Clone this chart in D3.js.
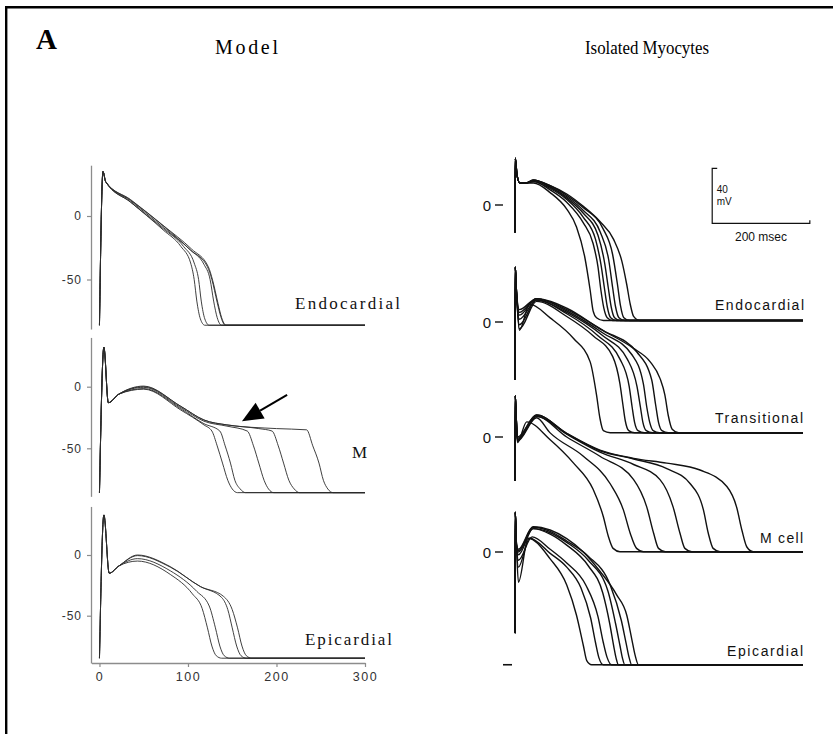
<!DOCTYPE html>
<html>
<head>
<meta charset="utf-8">
<script src="https://cdn.jsdelivr.net/npm/d3@7"></script>
<style>
  html, body { margin: 0; background: #fff; overflow: hidden; }
  svg { display: block; }
</style>
</head>
<body>
<svg id="fig" width="833" height="734"></svg>
<script>
// ---- data: [time ms, voltage mV] points ----

// Model, endocardial: common upstroke, then one array per trace
const modelEndoStart = [[0, -86], [4, 35], [7, 27]];
const modelEndo = [
  [[35, 11], [72, -11], [92, -24], [103, -37], [107, -50], [110, -67], [114, -81], [119, -86]],
  [[35, 11], [72, -10], [95, -24], [107, -37], [112, -50], [115, -67], [119, -81], [124, -86]],
  [[35, 12], [72, -9], [103, -27], [118, -38], [125, -50], [129, -67], [133, -80], [138, -86]],
  [[35, 12.6], [73, -8.4], [103, -26.8], [122, -40], [127, -50], [133, -68], [137, -79], [142, -86]],
  [[35, 13], [73, -8], [104, -26], [123, -40], [128, -51], [134, -69], [138, -80], [143, -86]]
];

// Model, M cell
const modelMStart = [[0, -86], [5, 32], [10, -13], [22, -6]];
const modelM = [
  [[50, -2], [92, -19], [118, -31], [127, -36], [133, -48], [139, -62], [145, -76], [150, -83], [156, -86]],
  [[50, -1.5], [92, -18], [118, -30], [136, -36], [142, -48], [148, -62], [153, -76], [159, -83], [165, -86]],
  [[50, -0.5], [92, -17], [118, -28], [144, -32], [167, -36], [174, -48], [180, -62], [186, -76], [191, -83], [197, -86]],
  [[50, 0], [92, -16], [118, -27], [144, -31], [180, -34], [195, -36], [202, -48], [208, -62], [214, -76], [220, -83], [226, -86]],
  [[50, 0.5], [92, -16], [118, -27], [144, -31], [200, -34], [234, -35], [241, -48], [248, -62], [253, -76], [258, -83], [264, -86]]
];

// Model, epicardial
const modelEpiStart = [[0, -85], [5, 33], [11, -15], [22, -9]];
const modelEpi = [
  [[43, -5], [80, -16], [105, -32], [116, -44], [122, -60], [127, -75], [132, -83], [138, -85]],
  [[43, -3], [80, -13], [110, -30], [124, -42], [131, -60], [136, -75], [141, -83], [147, -85]],
  [[43, -0.5], [80, -10], [114, -26], [138, -35], [145, -45], [150, -60], [155, -75], [160, -83], [166, -85]],
  [[43, 0], [80, -9.6], [114, -26], [140, -34], [150, -45], [156, -60], [161, -75], [166, -83], [172, -85]]
];

// Isolated myocytes, endocardial
const cellEndoStart = [[0, -20], [0.5, 34], [4, 22], [10, 16], [22, 16]];
const cellEndo = [
  [[38, 16], [72, 9], [106, -3], [126, -16], [143, -38], [154, -62], [160, -77], [167, -82], [181, -84]],
  [[38, 17], [72, 11], [106, 2], [140, -13], [160, -28], [170, -45], [176, -62], [182, -75], [189, -82], [200, -84]],
  [[38, 17], [72, 12], [106, 4], [140, -9], [165, -25], [176, -43], [183, -60], [189, -74], [196, -82], [208, -84]],
  [[38, 18], [72, 13], [106, 5], [140, -6], [170, -22], [184, -43], [191, -60], [197, -74], [204, -82], [216, -84]],
  [[38, 18], [72, 13], [106, 6], [140, -4], [175, -20], [192, -40], [200, -60], [206, -74], [213, -82], [225, -84]],
  [[38, 18], [72, 14], [106, 7], [140, -2], [180, -17], [200, -36], [210, -58], [216, -73], [223, -82], [235, -84]],
  [[38, 18], [72, 14], [106, 8], [140, -1], [174, -12], [202, -25], [219, -41], [229, -58], [236, -72], [243, -81], [256, -84]]
];

// Isolated myocytes, transitional
const cellTransStart = [[0, -42], [0.5, 40], [3, 22]];
const cellTrans = [
  [[9, -6], [30, 13], [72, 3], [120, -12], [154, -29], [167, -53], [174, -70], [181, -79], [195, -80.5]],
  [[9, -5], [44, 15], [106, 4], [160, -10], [200, -25], [215, -45], [221, -60], [226, -72], [233, -79], [245, -80.5]],
  [[9, -2], [44, 16], [106, 6], [170, -10], [215, -27], [234, -47], [240, -62], [245, -73], [252, -79], [265, -80.5]],
  [[9, 2], [44, 16], [106, 7], [180, -10], [230, -27], [250, -47], [257, -62], [262, -73], [269, -79], [282, -80.5]],
  [[9, 5], [44, 17], [106, 8], [180, -8], [240, -24], [263, -45], [270, -62], [276, -73], [283, -79], [296, -80.5]],
  [[9, 7], [44, 17], [106, 9], [180, -6], [250, -22], [280, -42], [288, -60], [294, -73], [301, -79], [314, -80.5]],
  [[9, 9], [44, 17], [106, 10], [174, -5], [242, -19], [277, -29], [297, -41], [307, -53], [314, -68], [322, -78], [335, -80.5]]
];

// Isolated myocytes, M cell
const cellMStart = [[0, -32], [0.5, 30], [3, 10]];
const cellM = [
  [[5, -4], [24, 11], [72, -2], [120, -19], [160, -38], [181, -58], [191, -72], [201, -81], [215, -83.4]],
  [[5, -3], [44, 14], [72, 3], [140, -14], [195, -34], [222, -53], [236, -70], [249, -81], [263, -83.4]],
  [[5, -2], [44, 15], [106, 0], [174, -14], [243, -31], [270, -51], [284, -70], [294, -81], [308, -83.4]],
  [[5, -2], [44, 15], [106, 2], [174, -11], [243, -20], [297, -31], [324, -51], [338, -70], [348, -81], [362, -83.4]],
  [[5, -1], [44, 16], [106, 2.5], [174, -10], [243, -16], [311, -23], [359, -34], [386, -53], [396, -70], [406, -81], [420, -83.4]],
  [[5, 0], [44, 16], [106, 2.7], [174, -9.5], [243, -15.5], [311, -19], [379, -24], [434, -36], [454, -51], [465, -68], [475, -80], [488, -83.4]]
];

// Isolated myocytes, epicardial
const cellEpiStart = [[0, -59], [0.5, 29], [3, 5]];
const cellEpi = [
  [[7, -22], [27, 10], [72, -5], [106, -24], [126, -46], [140, -68], [147, -79], [157, -82]],
  [[7, -11], [30, 10], [72, -1], [106, -11], [135, -26], [155, -48], [165, -66], [172, -77], [181, -82]],
  [[7, -6], [35, 11], [72, 2], [106, -8], [145, -24], [170, -47], [181, -66], [189, -77], [198, -82]],
  [[7, -2], [37, 17], [72, 13], [106, 5], [150, -10], [180, -30], [194, -52], [202, -68], [207, -77], [212, -82]],
  [[7, 0], [37, 17], [72, 14], [106, 7], [150, -6], [190, -28], [206, -52], [215, -68], [220, -77], [225, -82]],
  [[7, 1], [37, 18], [72, 15], [106, 8], [150, -3], [195, -24], [218, -50], [228, -67], [234, -77], [239, -82]],
  [[7, 2], [37, 18.4], [72, 16], [106, 9.7], [140, 0], [174, -14], [208, -31], [229, -46], [239, -63], [246, -75], [253, -82]]
];

const modelTicksY = [0, -50];
const modelTicksX = [0, 100, 200, 300];
const arrowTail = [212, -6.7];   // M panel, ms / mV
const arrowTip = [161, -28];
const scaleBar = { t: 404, v: -13.3, mV: 40, ms: 200 };

// ---- layout ----
const svg = d3.select('#fig');
svg.append('rect').attr('width', 833).attr('height', 734).attr('fill', '#fff');
// frame: only the top and left edges fall inside the picture
svg.append('path')
  .attr('d', 'M6.2,734V7.2H833')
  .attr('fill', 'none').attr('stroke', '#000').attr('stroke-width', 2.4);

svg.append('text').attr('x', 36).attr('y', 49)
  .attr('font-family', 'Liberation Serif').attr('font-weight', 'bold').attr('font-size', 29)
  .text('A');
svg.append('text').attr('x', 215).attr('y', 54)
  .attr('font-family', 'Liberation Serif').attr('font-size', 20)
  .attr('textLength', 63).attr('lengthAdjust', 'spacing')
  .text('Model');
svg.append('text').attr('x', 585).attr('y', 54)
  .attr('font-family', 'Liberation Serif').attr('font-size', 18)
  .attr('textLength', 124).attr('lengthAdjust', 'spacingAndGlyphs')
  .text('Isolated Myocytes');

// ---- model panels ----
const xm = d3.scaleLinear().domain([-9, 300]).range([91.5, 365]);
const modelPanels = [
  { start: modelEndoStart, traces: modelEndo, zero: 216, k: 1.27,
    label: 'Endocardial', lx: 295, ly: 309, lw: 105 },
  { start: modelMStart, traces: modelM, zero: 386.7, k: 1.232,
    label: 'M', lx: 352, ly: 458, lw: 0 },
  { start: modelEpiStart, traces: modelEpi, zero: 555, k: 1.214,
    label: 'Epicardial', lx: 305, ly: 645, lw: 87 }
];

modelPanels.forEach(p => {
  const y = d3.scaleLinear().domain([-89, 40]).range([p.zero + 89 * p.k, p.zero - 40 * p.k]);
  p.y = y;

  const ax = svg.append('g')
    .attr('transform', 'translate(91,0)')
    .call(d3.axisLeft(y).tickValues(modelTicksY).tickSize(4).tickSizeOuter(0).tickPadding(5)
      .tickFormat(d => String(d)));
  ax.select('.domain').attr('stroke', '#8c8c8c').attr('stroke-width', 1.3);
  ax.selectAll('.tick line').attr('stroke', '#8c8c8c').attr('stroke-width', 1.2);
  ax.selectAll('.tick text').attr('font-family', 'Liberation Sans').attr('font-size', 12)
    .attr('fill', '#333').attr('letter-spacing', 1);

  const line = d3.line()
    .x(d => xm(d[0])).y(d => y(d[1]))
    .curve(d3.curveMonotoneX);

  svg.append('g').selectAll('path')
    .data(p.traces)
    .join('path')
    .attr('d', tr => {
      const last = tr[tr.length - 1];
      return line(p.start.concat(tr, [[300, last[1]]]));
    })
    .attr('fill', 'none').attr('stroke', '#2a2a2a').attr('stroke-width', 0.9);

  const t = svg.append('text').attr('x', p.lx).attr('y', p.ly)
    .attr('font-family', 'Liberation Serif').attr('font-size', 17).attr('fill', '#111')
    .text(p.label);
  if (p.lw) t.attr('textLength', p.lw).attr('lengthAdjust', 'spacing');
});

// x axis under the epicardial model panel
const xAx = svg.append('g')
  .attr('transform', 'translate(0,663)')
  .call(d3.axisBottom(xm).tickValues(modelTicksX).tickSize(4).tickSizeOuter(0).tickPadding(5));
xAx.select('.domain').attr('stroke', '#8c8c8c').attr('stroke-width', 1.3);
xAx.selectAll('.tick line').attr('stroke', '#8c8c8c').attr('stroke-width', 1.2);
xAx.selectAll('.tick text').attr('font-family', 'Liberation Sans').attr('font-size', 12.5)
  .attr('fill', '#333').attr('letter-spacing', 1.5);

// arrow in the M panel
{
  const yM = modelPanels[1].y;
  const x0 = xm(arrowTail[0]), y0 = yM(arrowTail[1]);
  const x1 = xm(arrowTip[0]), y1 = yM(arrowTip[1]);
  const ang = Math.atan2(y1 - y0, x1 - x0);
  const len = 21, hw = 9;
  const bx = x1 - len * Math.cos(ang), by = y1 - len * Math.sin(ang);
  svg.append('line')
    .attr('x1', x0).attr('y1', y0).attr('x2', bx).attr('y2', by)
    .attr('stroke', '#000').attr('stroke-width', 2);
  svg.append('path')
    .attr('d', `M${x1},${y1}L${bx + hw * Math.sin(ang)},${by - hw * Math.cos(ang)}L${bx - hw * Math.sin(ang)},${by + hw * Math.cos(ang)}Z`)
    .attr('fill', '#000');
}

// ---- isolated myocyte panels ----
const xr = d3.scaleLinear().domain([0, 590]).range([515, 803]);
const cellPanels = [
  { start: cellEndoStart, traces: cellEndo, zero: 205, label: 'Endocardial', lx: 715, ly: 310, lw: 89 },
  { start: cellTransStart, traces: cellTrans, zero: 322, label: 'Transitional', lx: 715, ly: 423, lw: 88 },
  { start: cellMStart, traces: cellM, zero: 437, label: 'M cell', lx: 760, ly: 543, lw: 43 },
  { start: cellEpiStart, traces: cellEpi, zero: 552, label: 'Epicardial', lx: 727, ly: 656, lw: 76 }
];
const kr = 1.375;

cellPanels.forEach(p => {
  const y = d3.scaleLinear().domain([-50, 0]).range([p.zero + 50 * kr, p.zero]);
  p.y = y;
  const line = d3.line()
    .x(d => xr(d[0])).y(d => y(d[1]))
    .curve(d3.curveMonotoneX);

  svg.append('g').selectAll('path')
    .data(p.traces)
    .join('path')
    .attr('d', tr => {
      const last = tr[tr.length - 1];
      return line(p.start.concat(tr, [[590, last[1]]]));
    })
    .attr('fill', 'none').attr('stroke', '#111').attr('stroke-width', 1.4);

  // "0 –" marker
  svg.append('text').attr('x', 491).attr('y', y(0) + 5.5)
    .attr('text-anchor', 'end')
    .attr('font-family', 'Liberation Sans').attr('font-size', 15).attr('fill', '#111')
    .text('0');
  svg.append('line')
    .attr('x1', 495).attr('x2', 503).attr('y1', y(0)).attr('y2', y(0))
    .attr('stroke', '#111').attr('stroke-width', 1.4);

  svg.append('text').attr('x', p.lx).attr('y', p.ly)
    .attr('font-family', 'Liberation Sans').attr('font-size', 14).attr('fill', '#111')
    .attr('textLength', p.lw).attr('lengthAdjust', 'spacing')
    .text(p.label);
});

// resting-level dash at the bottom-left of the epicardial cell panel
{
  const p = cellPanels[3];
  const last = p.traces[0][p.traces[0].length - 1];
  svg.append('line')
    .attr('x1', 503).attr('x2', 512).attr('y1', p.y(last[1])).attr('y2', p.y(last[1]))
    .attr('stroke', '#111').attr('stroke-width', 1.6);
}

// scale bar: 40 mV / 200 msec
{
  const y = cellPanels[0].y;
  const bx = xr(scaleBar.t), by = y(scaleBar.v);
  const top = y(scaleBar.v + scaleBar.mV);
  const right = xr(scaleBar.t + scaleBar.ms);
  svg.append('path')
    .attr('d', `M${bx + 5},${top}H${bx}V${by}H${right}V${by - 3}`)
    .attr('fill', 'none').attr('stroke', '#111').attr('stroke-width', 1.2);
  svg.append('text').attr('x', bx + 4.5).attr('y', top + 25)
    .attr('font-family', 'Liberation Sans').attr('font-size', 10).attr('fill', '#111')
    .text('40');
  svg.append('text').attr('x', bx + 4.5).attr('y', top + 36.5)
    .attr('font-family', 'Liberation Sans').attr('font-size', 10).attr('fill', '#111')
    .text('mV');
  svg.append('text').attr('x', (bx + right) / 2).attr('y', by + 18)
    .attr('text-anchor', 'middle')
    .attr('font-family', 'Liberation Sans').attr('font-size', 12).attr('fill', '#111')
    .text('200 msec');
}
</script>
</body>
</html>
